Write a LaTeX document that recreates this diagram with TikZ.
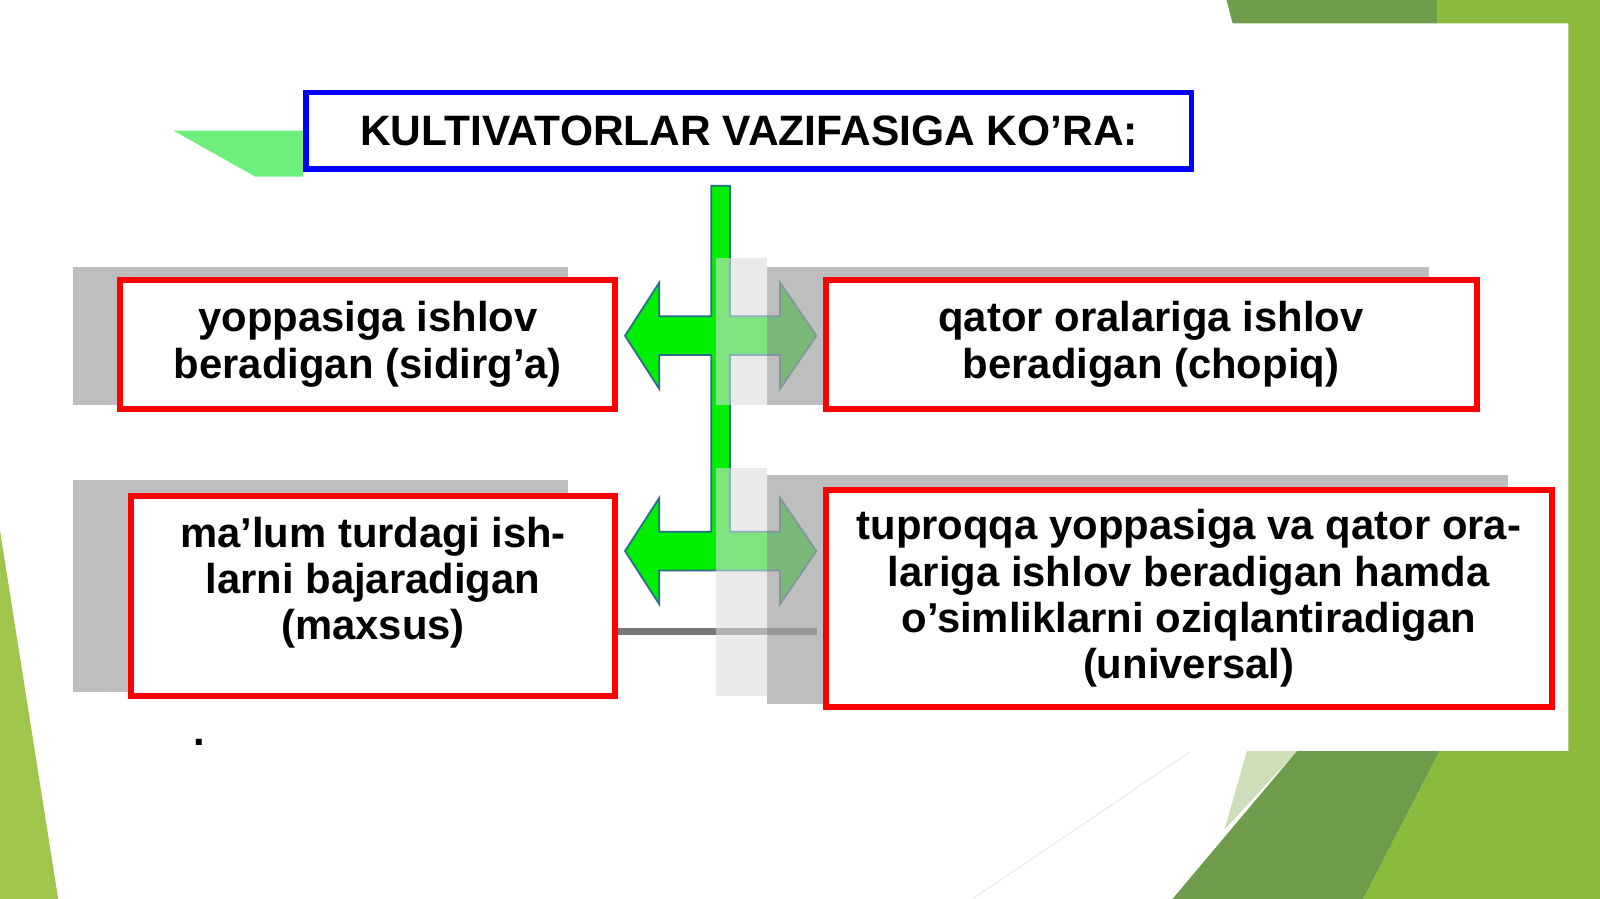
\documentclass[tikz,border=0pt]{standalone}
\usepackage{fontspec}
\setmainfont{Liberation Sans}
\newcommand{\pxu}{0.010204cm}
\definecolor{boxred}{RGB}{255,0,0}
\definecolor{titleblue}{RGB}{0,0,255}
\definecolor{arrowgreen}{RGB}{0,238,0}
\definecolor{arrowrim}{RGB}{40,110,140}
\definecolor{shadowgray}{RGB}{190,190,190}
\definecolor{veilgray}{RGB}{166,166,166}
\definecolor{mistgray}{RGB}{220,220,220}
\definecolor{seamgray}{RGB}{120,120,120}
\definecolor{leafdark}{RGB}{110,156,74}
\definecolor{leaflight}{RGB}{140,186,60}
\definecolor{leafpale}{RGB}{205,222,185}
\definecolor{leafleft}{RGB}{158,198,76}
\definecolor{mintgreen}{RGB}{110,238,122}
\begin{document}
\begin{tikzpicture}[x=\pxu,y=-\pxu,
		textfont/.style={font=\fontsize{11.9}{13.2}\selectfont\bfseries},
		catbox/.style={draw=boxred,line width=1.7pt,fill=white,align=center,inner sep=0pt,textfont},
		headbox/.style={draw=titleblue,line width=1.5pt,fill=white,inner sep=0pt,font=\fontsize{12.1}{13.2}\selectfont\bfseries}]
			\useasboundingbox (0,0) rectangle (1568,881);
			\fill[white] (0,0) rectangle (1568,881);
			\fill[leafdark] (1202,0) -- (1408,0) -- (1408,23) -- (1208,23) -- cycle;
			\fill[leaflight] (1408,0) -- (1568,0) -- (1568,881) -- (1537,881) -- (1537,23) -- (1408,23) -- cycle;
			\fill[leafpale] (1222,736) -- (1271,736) -- (1200,813) -- cycle;
			\fill[leafdark] (1271,736) -- (1411,736) -- (1336,881) -- (1149,881) -- cycle;
			\fill[leaflight] (1411,736) -- (1568,736) -- (1568,881) -- (1336,881) -- cycle;
			\draw[mistgray!60,line width=0.3pt] (953,881) -- (1166,737);
			\fill[leafleft] (0,520) -- (57,881) -- (0,881) -- cycle;
			\fill[mintgreen] (170,128) -- (297,128) -- (297,173) -- (250,173) -- cycle;
			\foreach \ya/\yb in {262/397,470/678}{
				\fill[shadowgray] (72,\ya) rectangle (557,\yb);
			}
			\filldraw[fill=arrowgreen,draw=arrowrim,line width=0.5pt]
				(697,182) -- (715.5,182) -- (715.5,310) -- (764.5,310) -- (764.5,277) -- (800,329)
				-- (764.5,381) -- (764.5,348) -- (715.5,348) -- (715.5,521) -- (764.5,521) -- (764.5,488)
				-- (800,540) -- (764.5,592) -- (764.5,559) -- (646,559) -- (646,592) -- (612.5,540)
				-- (646,488) -- (646,521) -- (697,521) -- (697,348) -- (646,348) -- (646,381)
				-- (612.5,329) -- (646,277) -- (646,310) -- (697,310) -- cycle;
			\node[catbox,minimum width=475*\pxu,minimum height=196*\pxu,text depth=10pt] (maxsus) at (365.5,584) {ma’lum turdagi ish-\\larni bajaradigan\\(maxsus)};
			\coordinate (seam) at (0,619);
			\draw[seamgray,line width=2pt] (maxsus.east |- seam) -- (801,619);
			\foreach \ya/\yb in {253/397,459/682}{
				\fill[mistgray,fill opacity=0.58] (702,\ya) rectangle (752,\yb);
			}
			\foreach \ya/\xb/\yb in {262/1400/397,465/1478/690}{
				\fill[veilgray,fill opacity=0.725] (752,\ya) rectangle (\xb,\yb);
			}
			\node[headbox,minimum width=868*\pxu,minimum height=75*\pxu] (title) at (734,128) {KULTIVATORLAR VAZIFASIGA KO’RA:};
			\node[catbox,minimum width=485*\pxu,minimum height=127*\pxu] (yoppa) at (360.5,337.5) {yoppasiga ishlov\\beradigan (sidirg’a)};
			\node[catbox,minimum width=638*\pxu,minimum height=127*\pxu] (qator) at (1128,337.5) {qator oralariga ishlov\\beradigan (chopiq)};
			\node[catbox,minimum width=712*\pxu,minimum height=213*\pxu] (universal) at (1165,586.5) {tuproqqa yoppasiga va qator ora-\\lariga ishlov beradigan hamda\\o’simliklarni oziqlantiradigan\\(universal)};
			\node[textfont,inner sep=0pt] (dot) at (195,728) {.};
			\end{tikzpicture}
\end{document}
